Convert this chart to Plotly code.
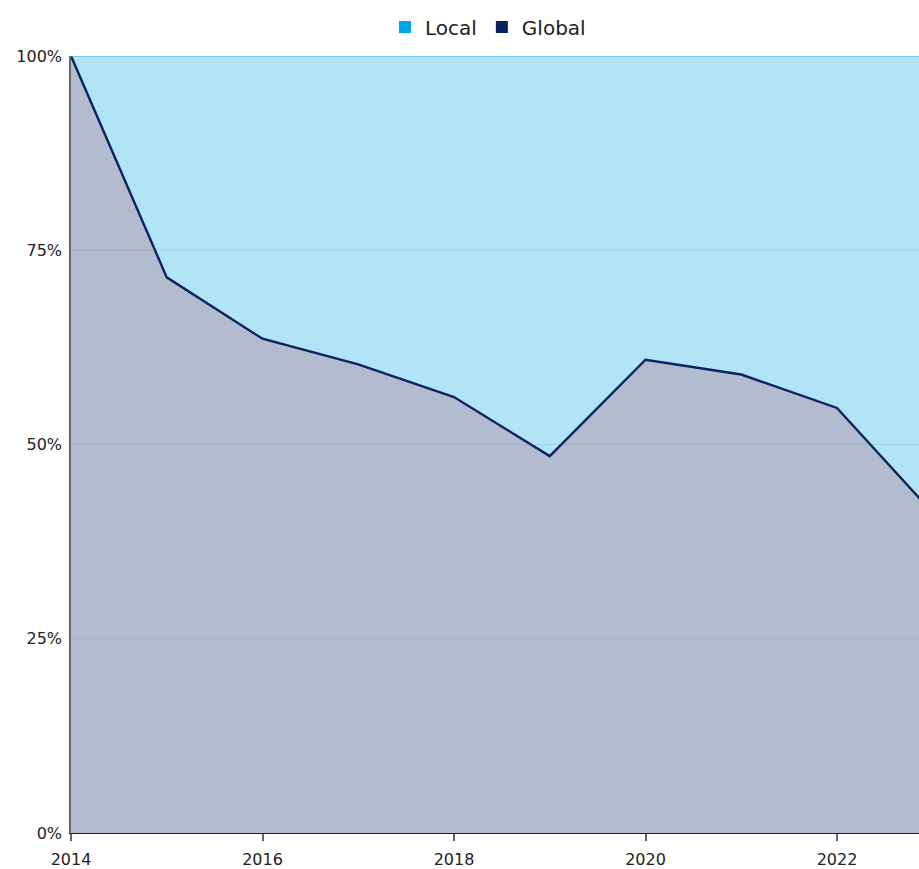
import plotly.graph_objects as go

years = [2014, 2015, 2016, 2017, 2018, 2019, 2020, 2021, 2022, 2023]
global_share = [100.0, 71.5, 63.6, 60.3, 56.1, 48.5, 60.9, 59.0, 54.7, 41.2]
local_share = [round(100 - g, 1) for g in global_share]

tick_vals_y = [0, 25, 50, 75, 100]
tick_text_y = ["0%", "25%", "50%", "75%", "100%"]
tick_vals_x = [2014, 2016, 2018, 2020, 2022]
tick_text_x = ["2014", "2016", "2018", "2020", "2022"]

FONT = "Verdana, DejaVu Sans, sans-serif"

fig = go.Figure()
fig.add_trace(go.Scatter(
    x=years, y=global_share, name="Global", stackgroup="one", mode="lines",
    line=dict(color="#0B2260", width=2.4), fillcolor="#B2BCCE", showlegend=False,
    hovertemplate="%{y:.1f}%<extra>Global</extra>"))
fig.add_trace(go.Scatter(
    x=years, y=local_share, name="Local", stackgroup="one", mode="lines",
    line=dict(color="#3CB6E6", width=1.2), fillcolor="#B2E4F8", showlegend=False,
    hovertemplate="%{y:.1f}%<extra>Local</extra>"))
# legend entries with square markers
fig.add_trace(go.Scatter(x=[None], y=[None], mode="markers", name="Local",
                         marker=dict(symbol="square", size=14, color="#00A6E6")))
fig.add_trace(go.Scatter(x=[None], y=[None], mode="markers", name="Global",
                         marker=dict(symbol="square", size=14, color="#0B2260")))

# faint gridlines drawn above the filled areas
for v in tick_vals_y[1:-1]:
    fig.add_shape(type="line", xref="paper", x0=0, x1=1, yref="y", y0=v, y1=v,
                  line=dict(color="rgba(110,130,160,0.18)", width=1), layer="above")

fig.update_layout(
    width=919, height=869,
    margin=dict(l=71, r=0, t=54, b=36),
    paper_bgcolor="white", plot_bgcolor="white",
    font=dict(family=FONT, size=16, color="#222222"),
    legend=dict(orientation="h", xref="paper", yref="container",
                x=(488 - 71) / 848, xanchor="center", y=(869 - 27) / 869, yanchor="middle",
                font=dict(size=20, color="#222222"), itemsizing="constant",
                traceorder="normal", itemwidth=30, bgcolor="rgba(0,0,0,0)"),
    showlegend=True,
)
fig.update_xaxes(
    range=[2014, 2014 + 848 / 95.75], tickvals=tick_vals_x, ticktext=tick_text_x,
    showgrid=False, zeroline=False, showline=True, linecolor="#222222", linewidth=1,
    ticks="outside", ticklen=7, tickcolor="#666666", tickwidth=1.5,
    ticklabelstandoff=5,
    tickfont=dict(size=16, color="#222222"))
fig.update_yaxes(
    range=[0, 100], tickvals=tick_vals_y, ticktext=tick_text_y,
    showgrid=False, zeroline=False, showline=True, linecolor="#666666", linewidth=1.5,
    ticks="", ticklabelstandoff=4, tickfont=dict(size=16, color="#222222"))

fig.write_html(
    "out.html",
    config={"displayModeBar": False},
    post_script="document.body.style.margin='0';document.body.style.overflow='hidden';",
)
